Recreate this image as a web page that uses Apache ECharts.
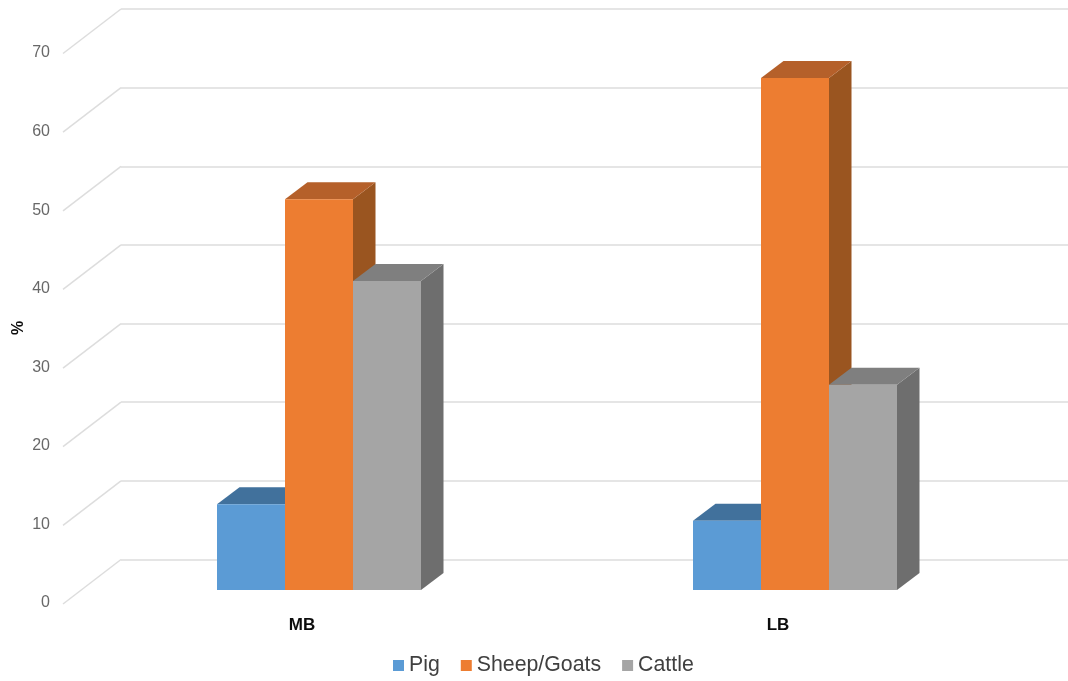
<!DOCTYPE html>
<html>
<head>
<meta charset="utf-8">
<style>html,body{margin:0;padding:0;background:#fff}#c{width:1068px;height:681px}</style>
<script src="https://cdn.jsdelivr.net/npm/echarts@6/dist/echarts.min.js"></script>
</head>
<body>
<div id="c"></div>
<script>
const categories = ['MB', 'LB'];
const pig = [10.9, 8.8];
const sheepGoats = [49.7, 65.1];
const cattle = [39.3, 26.1];
const yTicks = [0, 10, 20, 30, 40, 50, 60, 70];

const FONT = '"Liberation Sans", Arial, sans-serif';
const BACK_DX = -17.5, BACK_DY = 13.5;   // bar rear face relative to the back wall
const FRONT_DX = -40, FRONT_DY = 30.5;   // bar front face relative to the back wall
const WALL_DX = -58, WALL_DY = 44.5;     // side wall depth

function barSeries(name, values, slot, front, top, side) {
  return {
    name, type: 'custom', xAxisIndex: 0, yAxisIndex: 0, clip: false,
    itemStyle: { color: front },
    data: values.map((v, i) => [i, v]),
    encode: { x: 0, y: 1 },
    renderItem(params, api) {
      const band = api.size([1, 0])[0];
      const w = band / 7;
      const c = api.coord([api.value(0), api.value(1)]);
      const b = api.coord([api.value(0), 0]);
      const x0 = c[0] + FRONT_DX + (slot - 1.5) * w;
      const x1 = x0 + w;
      const yt = c[1] + FRONT_DY;
      const yb = b[1] + FRONT_DY;
      const dx = BACK_DX - FRONT_DX, dy = BACK_DY - FRONT_DY;
      return {
        type: 'group',
        children: [
          { type: 'polygon', shape: { points: [[x1, yt], [x1 + dx, yt + dy], [x1 + dx, yb + dy], [x1, yb]] }, style: { fill: side } },
          { type: 'polygon', shape: { points: [[x0, yt], [x0 + dx, yt + dy], [x1 + dx, yt + dy], [x1, yt]] }, style: { fill: top } },
          { type: 'rect', shape: { x: x0, y: yt, width: w, height: yb - yt }, style: { fill: front } }
        ]
      };
    }
  };
}

const chart = echarts.init(document.getElementById('c'), null, { renderer: 'canvas' });
chart.setOption({
  backgroundColor: '#ffffff',
  animation: false,
  legend: {
    data: ['Pig', 'Sheep/Goats', 'Cattle'],
    left: 393, top: 655,
    itemWidth: 11, itemHeight: 11, itemGap: 21,
    icon: 'rect',
    padding: 0,
    textStyle: { fontFamily: FONT, fontSize: 21.3, color: '#404040' }
  },
  grid: [
    { left: 121, top: 9, width: 952, height: 550.5, outerBoundsMode: 'none' },
    { left: 64, top: 53, width: 952, height: 550, outerBoundsMode: 'none' }
  ],
  xAxis: [
    { gridIndex: 0, type: 'category', data: categories, show: false },
    {
      gridIndex: 1, type: 'category', data: categories,
      axisLine: { show: false }, axisTick: { show: false },
      axisLabel: { margin: 14, fontFamily: FONT, fontSize: 17, fontWeight: 'bold', color: '#0d0d0d' }
    }
  ],
  yAxis: [
    {
      gridIndex: 0, type: 'value', min: 0, max: 70, interval: 10,
      axisLine: { show: false }, axisTick: { show: false }, axisLabel: { show: false },
      splitLine: { show: true, lineStyle: { color: '#DDDDDD', width: 1.5 } }
    },
    {
      gridIndex: 1, type: 'value', min: 0, max: 70, interval: 10,
      name: '%', nameLocation: 'middle', nameGap: 37, nameRotate: 90, nameMoveOverlap: false,
      nameTextStyle: { fontFamily: FONT, fontSize: 16, fontWeight: 'bold', color: '#0d0d0d' },
      axisLine: { show: false }, axisTick: { show: false }, splitLine: { show: false },
      axisLabel: { margin: 14, fontFamily: FONT, fontSize: 16, color: '#686868' }
    }
  ],
  series: [
    {
      name: 'wall', type: 'custom', xAxisIndex: 0, yAxisIndex: 0, clip: false, silent: true, z: 1,
      data: yTicks.map(t => [0, t]),
      encode: { x: 0, y: 1 },
      renderItem(params, api) {
        const band = api.size([1, 0])[0];
        const c = api.coord([0, api.value(1)]);
        const x = c[0] - band / 2;
        return {
          type: 'line',
          shape: { x1: x, y1: c[1], x2: x + WALL_DX, y2: c[1] + WALL_DY },
          style: { stroke: '#DDDDDD', lineWidth: 1.5 }
        };
      }
    },
    barSeries('Pig', pig, 0, '#5B9BD5', '#41719C', '#3A6A94'),
    barSeries('Sheep/Goats', sheepGoats, 1, '#ED7D31', '#B5602A', '#9A5520'),
    barSeries('Cattle', cattle, 2, '#A5A5A5', '#7F7F7F', '#6E6E6E')
  ]
});
</script>
</body>
</html>
